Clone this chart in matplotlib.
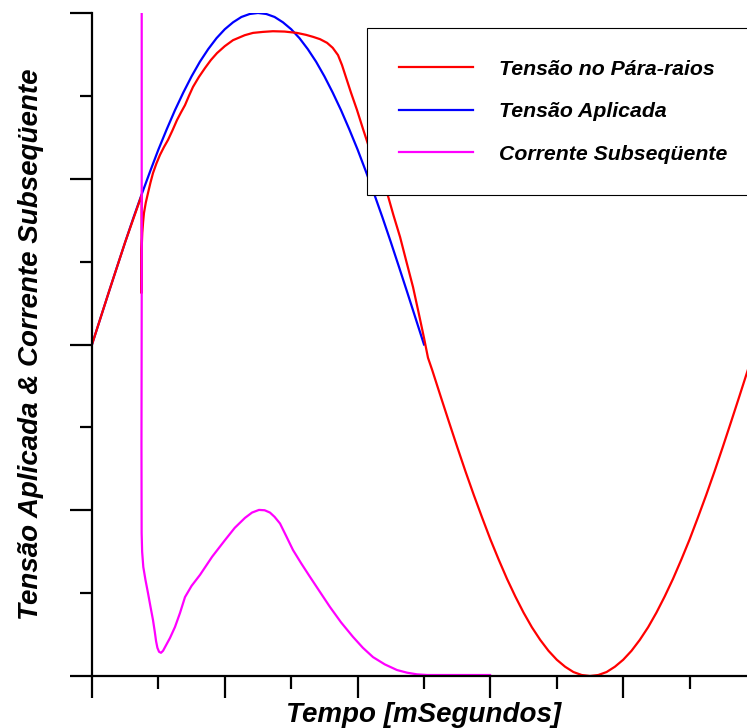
import numpy as np
import matplotlib.pyplot as plt
from matplotlib.ticker import MultipleLocator

plt.rcParams['font.family'] = ['Liberation Sans', 'DejaVu Sans']

# Tensão Aplicada (ms / p.u.)
t_aplicada = [0.0, 0.25, 0.5, 0.75, 1.0, 1.25, 1.5, 1.75, 2.0, 2.25, 2.5,
              2.75, 3.0, 3.25, 3.5, 3.75, 4.0, 4.25, 4.5, 4.75, 5.0,
              5.25, 5.5, 5.75, 6.0, 6.25, 6.5, 6.75, 7.0, 7.25, 7.5,
              7.75, 8.0, 8.25, 8.5, 8.75, 9.0, 9.25, 9.5, 9.75, 10.0]
v_aplicada = [0.0, 0.078, 0.156, 0.233, 0.309, 0.383, 0.454, 0.522, 0.588, 0.649, 0.707,
              0.76, 0.809, 0.853, 0.891, 0.924, 0.951, 0.972, 0.988, 0.997, 1.0,
              0.997, 0.988, 0.972, 0.951, 0.924, 0.891, 0.853, 0.809, 0.76, 0.707,
              0.649, 0.588, 0.522, 0.454, 0.383, 0.309, 0.233, 0.156, 0.078, 0.0]

# Tensão no Pára-raios
t_pararaios = [0.0, 0.5, 1.0, 1.497,
               1.49, 1.485, 1.50, 1.515, 1.54, 1.566, 1.62, 1.687, 1.76, 1.837,
               1.94, 2.048, 2.17, 2.289, 2.42, 2.56, 2.68, 2.801, 2.92, 3.042,
               3.22, 3.404, 3.58, 3.765, 4.0, 4.247, 4.6, 4.85, 5.15, 5.45,
               5.8, 6.17, 6.45, 6.66, 6.87, 7.08, 7.25, 7.41, 7.53, 7.65,
               7.8, 7.98, 8.17, 8.37, 8.63, 8.89, 9.08, 9.28, 9.47, 9.67,
               9.84, 10.0, 10.12, 10.25, 10.5, 10.75, 11.0, 11.25, 11.5, 11.75,
               12.0, 12.25, 12.5, 12.75, 13.0, 13.25, 13.5, 13.75, 14.0, 14.25,
               14.5, 14.75, 15.0, 15.25, 15.5, 15.75, 16.0, 16.25, 16.5, 16.75,
               17.0, 17.25, 17.5, 17.75, 18.0, 18.25, 18.5, 18.75, 19.0, 19.25,
               19.5, 19.75, 20.0]
v_pararaios = [0.0, 0.156, 0.309, 0.451,
               0.155, 0.255, 0.30, 0.337, 0.37, 0.397, 0.428, 0.457, 0.488, 0.517,
               0.546, 0.572, 0.596, 0.617, 0.645, 0.677, 0.70, 0.722, 0.75, 0.777,
               0.807, 0.834, 0.858, 0.879, 0.90, 0.918, 0.933, 0.94, 0.943, 0.945,
               0.944, 0.94, 0.934, 0.928, 0.921, 0.91, 0.895, 0.873, 0.843, 0.806,
               0.76, 0.708, 0.648, 0.587, 0.52, 0.457, 0.39, 0.324, 0.25, 0.173,
               0.095, 0.02, -0.04, -0.078, -0.156, -0.233, -0.309, -0.383, -0.454, -0.522,
               -0.588, -0.649, -0.707, -0.76, -0.809, -0.853, -0.891, -0.924, -0.951, -0.972,
               -0.988, -0.997, -1.0, -0.997, -0.988, -0.972, -0.951, -0.924, -0.891, -0.853,
               -0.809, -0.76, -0.707, -0.649, -0.588, -0.522, -0.454, -0.383, -0.309, -0.233,
               -0.156, -0.078, 0.0]

# Corrente Subseqüente (escala deslocada)
t_corrente = [1.497, 1.497, 1.49, 1.495, 1.51, 1.545, 1.61, 1.687, 1.76, 1.837,
              1.89, 1.93, 1.97, 2.02, 2.078, 2.14, 2.199, 2.35, 2.5, 2.65,
              2.801, 3.0, 3.253, 3.62, 4.006, 4.3, 4.608, 4.82, 5.03, 5.2,
              5.36, 5.5, 5.663, 5.85, 6.054, 6.3, 6.566, 6.87, 7.169, 7.5,
              7.861, 8.16, 8.464, 8.82, 9.187, 9.49, 9.789, 10.09, 11.99]
v_corrente = [1.3, 0.134, -0.3, -0.569, -0.625, -0.671, -0.71, -0.75, -0.79, -0.831,
              -0.866, -0.895, -0.915, -0.927, -0.93, -0.924, -0.913, -0.885, -0.852, -0.81,
              -0.762, -0.728, -0.695, -0.64, -0.59, -0.553, -0.523, -0.507, -0.499, -0.5,
              -0.507, -0.52, -0.54, -0.578, -0.62, -0.66, -0.701, -0.747, -0.792, -0.838,
              -0.882, -0.915, -0.943, -0.965, -0.982, -0.99, -0.995, -0.997, -0.997]

fig = plt.figure(figsize=(7.47, 7.28), dpi=100)
ax = fig.add_axes([92/747, 52/728, 664/747, 663/728])

l2, = ax.plot(t_aplicada, v_aplicada, color='#0000FF', lw=1.6, label='Tensão Aplicada')
l1, = ax.plot(t_pararaios, v_pararaios, color='#FF0000', lw=1.6, label='Tensão no Pára-raios')
l3, = ax.plot(t_corrente, v_corrente, color='#FF00FF', lw=1.6, label='Corrente Subseqüente')

ax.set_xlim(0, 20)
ax.set_ylim(-1, 1)
ax.spines['top'].set_visible(False)
ax.spines['right'].set_visible(False)
ax.spines['left'].set_linewidth(1.6)
ax.spines['bottom'].set_linewidth(1.6)
ax.xaxis.set_major_locator(MultipleLocator(4))
ax.xaxis.set_minor_locator(MultipleLocator(2))
ax.yaxis.set_major_locator(MultipleLocator(0.5))
ax.yaxis.set_minor_locator(MultipleLocator(0.25))
ax.tick_params(which='major', length=16, width=1.6, direction='out',
               labelbottom=False, labelleft=False)
ax.tick_params(which='minor', length=9, width=1.6, direction='out')

ax.set_xlabel('Tempo [mSegundos]', fontsize=20, fontweight='bold', style='italic', va='baseline')
ax.xaxis.set_label_coords(0.5, -46/663)
ax.set_ylabel('Tensão Aplicada & Corrente Subseqüente', fontsize=20, fontweight='bold',
              style='italic', va='baseline')
ax.yaxis.set_label_coords(-54/664, 0.5)

leg = ax.legend(handles=[l1, l2, l3], loc='upper left',
                bbox_to_anchor=(367/747, 1 - 28/728), bbox_transform=fig.transFigure,
                borderaxespad=0, fancybox=False, framealpha=1, edgecolor='black',
                prop={'size': 15.3, 'weight': 'bold', 'style': 'italic'},
                handlelength=3.5, handletextpad=1.22,
                labelspacing=1.106, borderpad=1.49)
leg.get_frame().set_linewidth(0.8)

fig.savefig('out.png', dpi=100)
